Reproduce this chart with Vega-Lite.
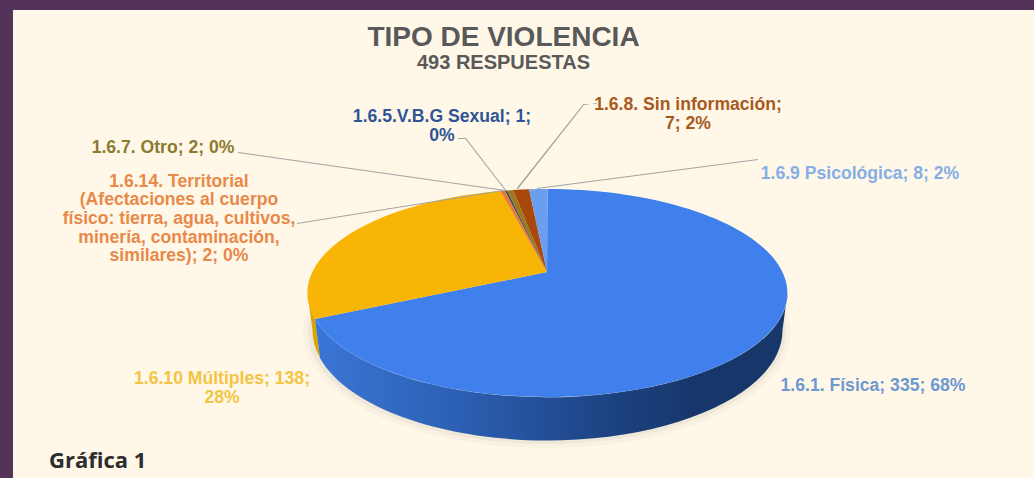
{"$schema":"https://vega.github.io/schema/vega-lite/v6.json","width":1021,"height":468,"padding":{"left":13,"top":10,"right":0,"bottom":0},"autosize":{"type":"none"},"background":"#54335a","view":{"fill":"#fff8e8","stroke":null},"title":{"text":"TIPO DE VIOLENCIA","subtitle":"493 RESPUESTAS","anchor":"middle","dx":-20,"offset":-63,"font":"Liberation Sans","fontSize":28,"fontWeight":"bold","color":"#595959","subtitleFont":"Liberation Sans","subtitleFontSize":20,"subtitleFontWeight":"bold","subtitleColor":"#595959","subtitlePadding":1},"data":{"values":[{"tipo":"1.6.1. Física","valor":335,"pct":68,"etiqueta":"1.6.1. Física; 335; 68%"},{"tipo":"1.6.10 Múltiples","valor":138,"pct":28,"etiqueta":"1.6.10 Múltiples; 138;\n28%"},{"tipo":"1.6.14. Territorial","valor":2,"pct":0,"etiqueta":"1.6.14. Territorial\n(Afectaciones al cuerpo\nfísico: tierra, agua, cultivos,\nminería, contaminación,\nsimilares); 2; 0%"},{"tipo":"1.6.5.V.B.G Sexual","valor":1,"pct":0,"etiqueta":"1.6.5.V.B.G Sexual; 1;\n0%"},{"tipo":"1.6.7. Otro","valor":2,"pct":0,"etiqueta":"1.6.7. Otro; 2; 0%"},{"tipo":"1.6.8. Sin información","valor":7,"pct":2,"etiqueta":"1.6.8. Sin información;\n7; 2%"},{"tipo":"1.6.9 Psicológica","valor":8,"pct":2,"etiqueta":"1.6.9 Psicológica; 8; 2%"}]},"encoding":{"x":{"datum":534,"type":"quantitative","scale":{"domain":[0,1021]},"axis":null},"y":{"datum":262,"type":"quantitative","scale":{"domain":[468,0]},"axis":null}},"resolve":{"scale":{"shape":"independent"}},"layer":[{"transform":[{"filter":"datum.pct==68"}],"mark":{"type":"point","filled":true,"size":4,"opacity":0.025,"strokeWidth":0,"color":"#000","shape":"M-244 61A244 115 0 1 0 244 61A244 115 0 1 0 -244 61Z"}},{"transform":[{"filter":"datum.pct==68"}],"mark":{"type":"point","filled":true,"size":4,"opacity":0.04,"strokeWidth":0,"color":"#000","shape":"M-239 60A239 112 0 1 0 239 60A239 112 0 1 0 -239 60Z"}},{"transform":[{"filter":"datum.pct==28"}],"mark":{"type":"point","filled":true,"size":4,"opacity":1,"strokeWidth":0,"color":"#d9a400","shape":"M-239.5 21A240 104 0 0 0 -232 47L-227 86A235 110 0 0 1 -234.5 58Z"}},{"transform":[{"filter":"datum.pct==68"}],"mark":{"type":"point","filled":true,"size":4,"opacity":1,"strokeWidth":0,"shape":"M-232 47A240 104 0 0 0 240.5 21L235.5 58A235 110 0 0 1 -227 86Z","fill":{"gradient":"linear","x1":0,"x2":1,"y1":0,"y2":0,"stops":[{"offset":0,"color":"#3a76d6"},{"offset":0.3,"color":"#2c60b4"},{"offset":0.6,"color":"#1e4486"},{"offset":0.8,"color":"#17376b"},{"offset":1,"color":"#17376b"}]}}},{"mark":{"type":"point","filled":true,"size":4,"opacity":1,"strokeWidth":0},"encoding":{"color":{"field":"tipo","type":"nominal","legend":null,"scale":{"domain":["1.6.1. Física","1.6.10 Múltiples","1.6.14. Territorial","1.6.5.V.B.G Sexual","1.6.7. Otro","1.6.8. Sin información","1.6.9 Psicológica"],"range":["#3f80ec","#f9b505","#ed7d31","#264478","#9c7a1b","#a8480b","#6c9eef"]}},"shape":{"field":"tipo","type":"nominal","legend":null,"scale":{"domain":["1.6.1. Física","1.6.10 Múltiples","1.6.14. Territorial","1.6.5.V.B.G Sexual","1.6.7. Otro","1.6.8. Sin información","1.6.9 Psicológica"],"range":["M0 0L.5 -83A240 104 0 1 1 -232 47Z","M0 0L-232 47A240 104 0 0 1 -47 -81Z","M0 0L-47 -81A240 104 0 0 1 -42 -81.4Z","M0 0L-42 -81.4A240 104 0 0 1 -40 -81.5Z","M0 0L-40 -81.5A240 104 0 0 1 -34 -81.9Z","M0 0L-34 -81.9A240 104 0 0 1 -18 -82.7Z","M0 0L-18 -82.7A240 104 0 0 1 .5 -83Z"]}}}},{"transform":[{"filter":"datum.pct==68"}],"mark":{"type":"point","filled":true,"size":4,"opacity":0.8,"strokeWidth":0,"color":"#6ba1f5","shape":"M-232 47A240 104 0 0 0 60 122A240 102 0 0 1 -232 47Z"}},{"transform":[{"filter":"datum.valor<=8"}],"mark":{"type":"point","filled":true,"size":4,"opacity":1,"strokeWidth":0},"encoding":{"color":{"value":"#a3a3a3"},"shape":{"field":"tipo","type":"nominal","legend":null,"scale":{"domain":["1.6.14. Territorial","1.6.5.V.B.G Sexual","1.6.7. Otro","1.6.8. Sin información","1.6.9 Psicológica"],"range":["M-250 -49L-44 -82L-44 -81L-250 -48Z","M-89 -134L-81 -134L-41 -82L-42.2 -82L-81.6 -133L-89 -133Z","M-309 -120L-42 -82L-42 -81L-309 -119Z","M50 -169L37 -167L-29 -83L-30.2 -84L36.4 -168L50 -168Z","M211 -113L-10 -84L-10 -83L211 -112Z"]}}}},{"transform":[{"filter":"datum.tipo=='1.6.1. Física'"}],"mark":{"type":"text","dx":326,"dy":114,"font":"Liberation Sans","fontSize":17.6,"fontWeight":"bold","color":"#6f98d2"},"encoding":{"text":{"field":"etiqueta"}}},{"transform":[{"filter":"datum.tipo=='1.6.10 Múltiples'"}],"mark":{"type":"text","dx":-325,"dy":107,"lineBreak":"\n","lineHeight":19,"font":"Liberation Sans","fontSize":17.6,"fontWeight":"bold","color":"#f2c544"},"encoding":{"text":{"field":"etiqueta"}}},{"transform":[{"filter":"datum.tipo=='1.6.9 Psicológica'"}],"mark":{"type":"text","dx":313,"dy":-98,"font":"Liberation Sans","fontSize":17.6,"fontWeight":"bold","color":"#86aee6"},"encoding":{"text":{"field":"etiqueta"}}},{"transform":[{"filter":"datum.tipo=='1.6.7. Otro'"}],"mark":{"type":"text","dx":-384,"dy":-124,"font":"Liberation Sans","fontSize":17.6,"fontWeight":"bold","color":"#8b7a2f"},"encoding":{"text":{"field":"etiqueta"}}},{"transform":[{"filter":"datum.tipo=='1.6.14. Territorial'"}],"mark":{"type":"text","dx":-368,"dy":-90.5,"lineBreak":"\n","lineHeight":18.7,"font":"Liberation Sans","fontSize":17.6,"fontWeight":"bold","color":"#e8894a"},"encoding":{"text":{"field":"etiqueta"}}},{"transform":[{"filter":"datum.tipo=='1.6.5.V.B.G Sexual'"}],"mark":{"type":"text","dx":-105,"dy":-155.5,"lineBreak":"\n","lineHeight":19,"font":"Liberation Sans","fontSize":17.6,"fontWeight":"bold","color":"#2f5597"},"encoding":{"text":{"field":"etiqueta"}}},{"transform":[{"filter":"datum.tipo=='1.6.8. Sin información'"}],"mark":{"type":"text","dx":141,"dy":-167,"lineBreak":"\n","lineHeight":19,"font":"Liberation Sans","fontSize":17.6,"fontWeight":"bold","color":"#a85a1e"},"encoding":{"text":{"field":"etiqueta"}}},{"data":{"values":[{"nota":"Gráfica 1"}]},"mark":{"type":"text","align":"left","dx":-498,"dy":189,"font":"Open Sans","fontSize":22,"fontWeight":"bold","color":"#2d2d2d"},"encoding":{"text":{"field":"nota"}}}]}
